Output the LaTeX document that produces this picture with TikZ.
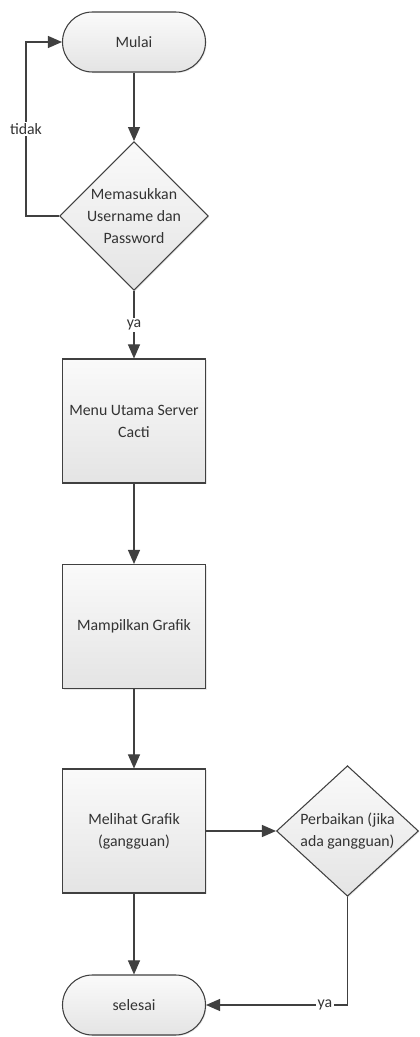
\documentclass[tikz,border=0pt]{standalone}
\usepackage{fontspec}
\setmainfont{Carlito}
\usepackage{tikz}
\usetikzlibrary{arrows.meta,shapes.geometric,shadows}
\definecolor{linegray}{RGB}{64,64,64}
\definecolor{boxtop}{RGB}{250,250,250}
\definecolor{boxbottom}{RGB}{228,228,228}
\tikzset{
  shapebase/.style={draw=linegray, line width=0.6pt,
                    top color=boxtop, bottom color=boxbottom,
                    drop shadow={opacity=0.18, shadow xshift=0.6pt, shadow yshift=-0.6pt},
                    align=center, inner sep=0pt,
                    font=\fontsize{9}{12.5}\selectfont, text=black!80},
  terminal/.style={shapebase, rectangle, rounded corners=0.6cm,
                   minimum width=2.86cm, minimum height=1.2cm},
  process/.style={shapebase, rectangle,
                  minimum width=2.86cm, minimum height=2.48cm},
  decision/.style={shapebase, diamond,
                   minimum width=2.84cm, minimum height=2.46cm},
  flow/.style={-{Triangle[length=2.8mm,width=2.4mm]}, draw=linegray, line width=0.6pt},
  lbl/.style={fill=white, inner sep=1pt, font=\fontsize{9}{11}\selectfont, text=black!80},
}
\begin{document}
\begin{tikzpicture}[x=1cm,y=1cm]
  \path[use as bounding box] (0,0) rectangle (8.4,20.74);

  \node[terminal] (start) at (2.68,19.90) {Mulai};
  \node[decision] (login) at (2.68,16.42) {Memasukkan\\Username dan\\Password};
  \node[process] (menu) at (2.68,12.32) {Menu Utama Server\\Cacti};
  \node[process] (show) at (2.68,8.21) {Mampilkan Grafik};
  \node[process] (view) at (2.68,4.12) {Melihat Grafik\\(gangguan)};
  \node[decision] (fix) at (6.95,4.12) {Perbaikan (jika\\ada gangguan)};
  \node[terminal] (end) at (2.68,0.64) {selesai};

  \coordinate (loopx) at (0.52,16.42);
  \coordinate (fixturn) at (6.95,0.64);

  \draw[flow] (start) -- (login);
  \draw[flow] (login.west) -- (loopx) |- node[lbl, pos=0.25] {tidak} (start.west);
  \draw[flow] (login) -- node[lbl] {ya} (menu);
  \draw[flow] (menu) -- (show);
  \draw[flow] (show) -- (view);
  \draw[flow] (view) -- (fix);
  \draw[flow] (view) -- (end);
  \draw[flow] (fix.south) -- (fixturn) -- node[lbl, pos=0.16] {ya} (end.east);
\end{tikzpicture}
\end{document}
